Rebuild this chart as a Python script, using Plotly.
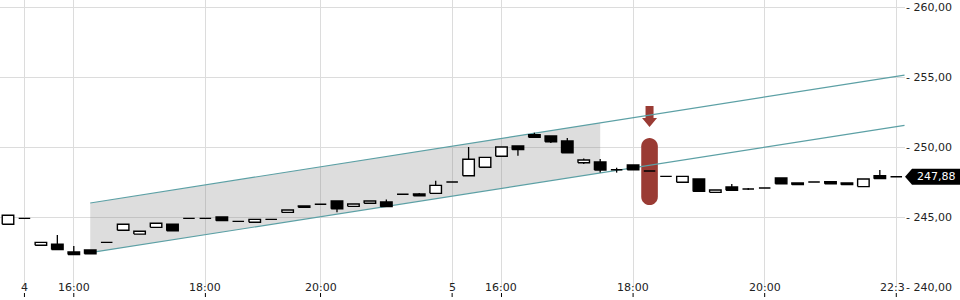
import plotly.graph_objects as go

# ---- data ----
idx = list(range(55))
opens = [244.48, 244.90, 242.98, 243.05, 242.50, 242.64, 243.19, 244.05, 243.78, 244.26,
         244.48, 244.90, 244.90, 245.00, 244.69, 244.62, 244.83, 245.33, 245.79, 245.91,
         246.14, 245.76, 245.98, 246.07, 246.62, 246.64, 246.69, 247.50, 247.95, 248.55,
         249.34, 250.07, 250.88, 250.79, 250.43, 248.88, 248.93, 248.38, 248.71, 248.29,
         247.90, 247.48, 247.71, 246.76, 247.14, 247.00, 247.07, 247.79, 247.43, 247.50,
         247.52, 247.43, 247.17, 247.95, 247.88]
closes = [245.12, 244.90, 243.19, 242.67, 242.32, 242.38, 243.19, 244.48, 243.98, 244.55,
          244.02, 244.90, 244.90, 244.74, 244.69, 244.83, 244.83, 245.50, 245.69, 245.91,
          245.59, 245.93, 246.14, 245.74, 246.62, 246.52, 247.26, 247.50, 249.12, 249.26,
          250.00, 249.81, 250.69, 250.38, 249.59, 249.07, 248.36, 248.38, 248.37, 248.29,
          247.90, 247.90, 246.83, 246.93, 246.91, 247.00, 247.07, 247.38, 247.31, 247.50,
          247.38, 247.31, 247.71, 247.74, 247.88]
highs = [245.12, 244.90, 243.19, 243.71, 242.93, 242.64, 243.19, 244.48, 243.98, 244.55,
         244.48, 244.90, 244.90, 245.00, 244.69, 244.83, 244.83, 245.50, 245.79, 245.91,
         246.14, 245.93, 246.14, 246.25, 246.62, 246.71, 247.59, 247.50, 250.00, 249.26,
         250.00, 250.07, 251.02, 250.79, 250.64, 249.17, 249.14, 248.52, 248.71, 248.29,
         247.90, 247.90, 247.71, 246.93, 247.36, 247.07, 247.07, 247.79, 247.43, 247.50,
         247.52, 247.43, 247.71, 248.36, 247.88]
lows = [244.48, 244.90, 242.98, 242.67, 242.32, 242.38, 243.19, 244.05, 243.78, 244.26,
        244.02, 244.90, 244.90, 244.74, 244.69, 244.62, 244.83, 245.33, 245.69, 245.91,
        245.34, 245.76, 245.98, 245.74, 246.62, 246.52, 246.69, 247.50, 247.95, 248.55,
        249.34, 249.38, 250.69, 250.29, 249.59, 248.79, 248.17, 248.17, 248.37, 248.29,
        247.90, 247.48, 246.83, 246.76, 246.91, 246.93, 247.07, 247.38, 247.31, 247.50,
        247.38, 247.31, 247.17, 247.74, 247.88]

tick_idx = [1, 4, 12, 19, 27, 30, 38, 46, 54]
tick_text = ["4", "16:00", "18:00", "20:00", "5", "16:00", "18:00", "20:00", "22:3"]

y_ticks = [240, 245, 250, 255, 260]

# trend channel
ch_start, ch_end, fill_end = 5, 54.5, 36
upper_start, upper_end = 246.00, 255.14
lower_start, lower_end = 242.45, 251.55

# signal marker
sig_idx = 39
sig_top, sig_bottom = 250.64, 245.86
arrow_top, arrow_neck, arrow_tip = 252.93, 252.07, 251.43

last_price = closes[-1]

# ---- figure ----
def lin(a, b, x):
    return a + (b - a) * (x - ch_start) / (ch_end - ch_start)

fig = go.Figure()

fig.add_trace(go.Scatter(
    x=[ch_start, fill_end, fill_end, ch_start, ch_start],
    y=[upper_start, lin(upper_start, upper_end, fill_end),
       lin(lower_start, lower_end, fill_end), lower_start, upper_start],
    fill="toself", fillcolor="rgba(120,120,120,0.25)", line=dict(width=0),
    mode="lines", hoverinfo="skip", showlegend=False))

teal = "rgb(92,160,165)"
fig.add_trace(go.Scatter(x=[ch_start, ch_end], y=[upper_start, upper_end], mode="lines",
                         line=dict(color=teal, width=1.2), showlegend=False))
fig.add_trace(go.Scatter(x=[ch_start, ch_end], y=[lower_start, lower_end], mode="lines",
                         line=dict(color=teal, width=1.2), showlegend=False))

# candles: wicks, then bodies as closed rectangles
hw = 0.35
wx, wy = [], []
up_x, up_y, dn_x, dn_y = [], [], [], []
for i, o, h, l, c in zip(idx, opens, highs, lows, closes):
    wx += [i, i, None]
    wy += [l, h, None]
    top, bot = max(o, c), min(o, c)
    rx_ = [i - hw, i + hw, i + hw, i - hw, i - hw, None]
    ry_ = [bot, bot, top, top, bot, None]
    if c > o:
        up_x += rx_; up_y += ry_
    else:
        dn_x += rx_; dn_y += ry_

fig.add_trace(go.Scatter(x=wx, y=wy, mode="lines", line=dict(color="black", width=1.3),
                         hoverinfo="skip", showlegend=False))
fig.add_trace(go.Scatter(x=up_x, y=up_y, mode="lines", fill="toself", fillcolor="white",
                         line=dict(color="black", width=1.4), hoverinfo="skip",
                         showlegend=False))
fig.add_trace(go.Scatter(x=dn_x, y=dn_y, mode="lines", fill="toself", fillcolor="black",
                         line=dict(color="black", width=1.4), hoverinfo="skip",
                         showlegend=False))

red = "rgb(154,59,52)"
k = 0.5523
rx = 8.3
ry = rx / 14.0
yt, yb = sig_top, sig_bottom
pill = (f"M {-rx},{yt-ry} C {-rx},{yt-ry+k*ry} {-k*rx},{yt} 0,{yt} "
        f"C {k*rx},{yt} {rx},{yt-ry+k*ry} {rx},{yt-ry} "
        f"L {rx},{yb+ry} C {rx},{yb+ry-k*ry} {k*rx},{yb} 0,{yb} "
        f"C {-k*rx},{yb} {-rx},{yb+ry-k*ry} {-rx},{yb+ry} Z")
arrow = (f"M -4,{arrow_top} L 4,{arrow_top} L 4,{arrow_neck} L 7.5,{arrow_neck} "
         f"L 0,{arrow_tip} L -7.5,{arrow_neck} L -4,{arrow_neck} Z")

shapes = [
    dict(type="path", xref="x", yref="y", xsizemode="pixel", xanchor=sig_idx,
         path=pill, fillcolor=red, line=dict(width=0), layer="between"),
    dict(type="path", xref="x", yref="y", xsizemode="pixel", xanchor=sig_idx,
         path=arrow, fillcolor=red, line=dict(width=0), layer="between"),
    dict(type="path", xref="paper", yref="y", xsizemode="pixel", xanchor=1,
         ysizemode="pixel", yanchor=last_price,
         path="M 0,0 L 7,8 L 56,8 L 56,-8 L 7,-8 Z", fillcolor="black",
         line=dict(width=0), layer="above"),
]
plot_h = 287.0
for t in tick_idx:
    shapes.append(dict(type="line", xref="x", yref="paper", x0=t, x1=t,
                       y0=-6 / plot_h, y1=-10 / plot_h,
                       line=dict(color="black", width=1)))

annotations = []
for n, (t, s) in enumerate(zip(tick_idx, tick_text)):
    annotations.append(dict(
        text=s, x=t, y=240, xref="x", yref="y", xanchor="center", yanchor="middle",
        xshift=-4 if n == len(tick_idx) - 1 else 0,
        showarrow=False, font=dict(family="DejaVu Sans", size=11, color="#222")))
annotations.append(dict(text=f"{last_price:.2f}".replace(".", ","), x=1, xref="paper",
                        y=last_price, yref="y", xanchor="center", yanchor="middle",
                        xshift=31, showarrow=False,
                        font=dict(family="DejaVu Sans", size=11, color="white")))

fig.update_layout(
    width=960, height=300,
    margin=dict(l=0, r=55, t=0, b=13),
    paper_bgcolor="white", plot_bgcolor="white",
    font=dict(family="DejaVu Sans", size=11, color="#222"),
    shapes=shapes, annotations=annotations,
    showlegend=False,
    xaxis=dict(range=[-0.486, 54.53], tickvals=tick_idx, showticklabels=False,
               showgrid=True, gridcolor="#dcdcdc", gridwidth=1, zeroline=False,
               ticks="", fixedrange=True),
    yaxis=dict(range=[240, 260.5], side="right", tickvals=y_ticks,
               ticktext=["- " + f"{v:.2f}".replace(".", ",") for v in y_ticks],
               showgrid=True, gridcolor="#dcdcdc", gridwidth=1, zeroline=False,
               ticks="", fixedrange=True),
)

fig.write_html("out.html")
